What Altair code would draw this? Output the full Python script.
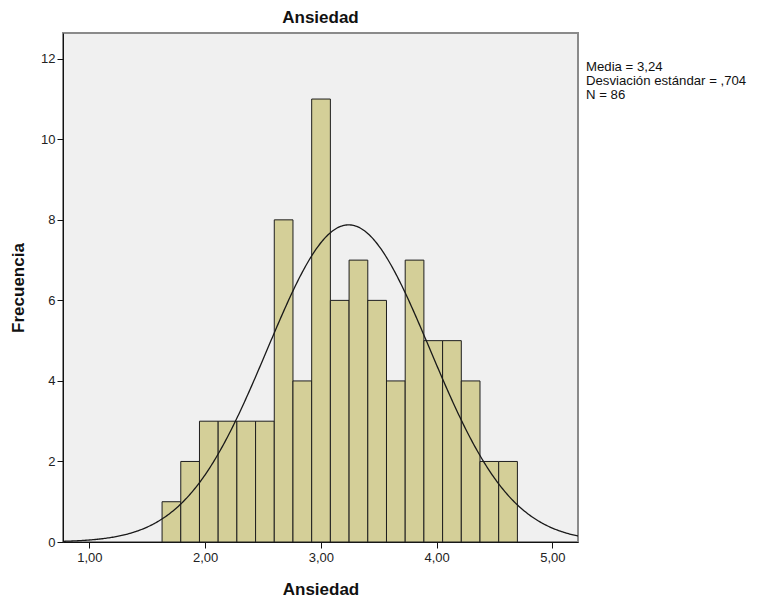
import altair as alt
import numpy as np
import pandas as pd

# Histogram data
counts = [1, 2, 3, 3, 3, 3, 8, 4, 11, 6, 7, 6, 4, 7, 5, 5, 4, 2, 2]
bin_start = 1.628
bin_width = 0.1616
stats_lines = ["Media = 3,24", "Desviación estándar = ,704", "N = 86"]
mean, sd, n = 3.24, 0.704, 86
x_ticks = [1, 2, 3, 4, 5]
y_ticks = [0, 2, 4, 6, 8, 10, 12]

edges = [bin_start + i * bin_width for i in range(len(counts) + 1)]
bars = pd.DataFrame({"x0": edges[:-1], "x1": edges[1:], "count": counts})

FONT = "Liberation Sans"
xscale = alt.Scale(domain=[0.772, 5.222], nice=False, zero=False)
yscale = alt.Scale(domain=[0, 12.64], nice=False)

x_axis = alt.Axis(title="Ansiedad", values=x_ticks, grid=False,
                  labelExpr="replace(format(datum.value, '.2f'), '.', ',')",
                  tickSize=6, labelPadding=3, titlePadding=17)
y_axis = alt.Axis(title="Frecuencia", values=y_ticks, grid=False,
                  tickSize=6, labelPadding=2, titlePadding=13)

hist = alt.Chart(bars).mark_rect(fill="#D4CF98", stroke="#1e1e1e", strokeWidth=1).encode(
    x=alt.X("x0:Q", scale=xscale, axis=x_axis),
    x2="x1:Q",
    y=alt.Y("count:Q", scale=yscale, axis=y_axis),
    y2=alt.datum(0),
)

curve = alt.Chart(alt.sequence(0.77, 5.23, 0.01, as_="x")).transform_calculate(
    y=f"{n * bin_width} * densityNormal(datum.x, {mean}, {sd})"
).mark_line(color="#1a1a1a", strokeWidth=1.3, clip=True).encode(
    x=alt.X("x:Q", scale=xscale),
    y=alt.Y("y:Q", scale=yscale),
)

stats = alt.Chart(pd.DataFrame({"t": ["\n".join(stats_lines)]})).mark_text(
    align="left", baseline="top", lineBreak="\n", lineHeight=14,
    font=FONT, fontSize=13.2, color="#111"
).encode(text="t:N", x=alt.value(523), y=alt.value(28))

chart = alt.layer(hist, curve, stats).properties(
    width=515, height=509,
    title=alt.TitleParams("Ansiedad", fontSize=17, font=FONT, fontWeight="bold",
                          anchor="middle", offset=6, color="#111"),
    autosize=alt.AutoSizeParams(type="none"),
    padding={"left": 55, "top": 25, "right": 171, "bottom": 59},
).configure_view(
    fill="#F0F0F0", stroke="#8a8a8a", strokeWidth=2
).configure_axis(
    domainColor="#111", tickColor="#111", labelColor="#222",
    labelFont=FONT, labelFontSize=13, titleFont=FONT, titleFontSize=17,
    titleFontWeight="bold", titleColor="#111", domainWidth=1, tickWidth=1
)

chart.save("out.html", embed_options={"renderer": "svg", "actions": False})
